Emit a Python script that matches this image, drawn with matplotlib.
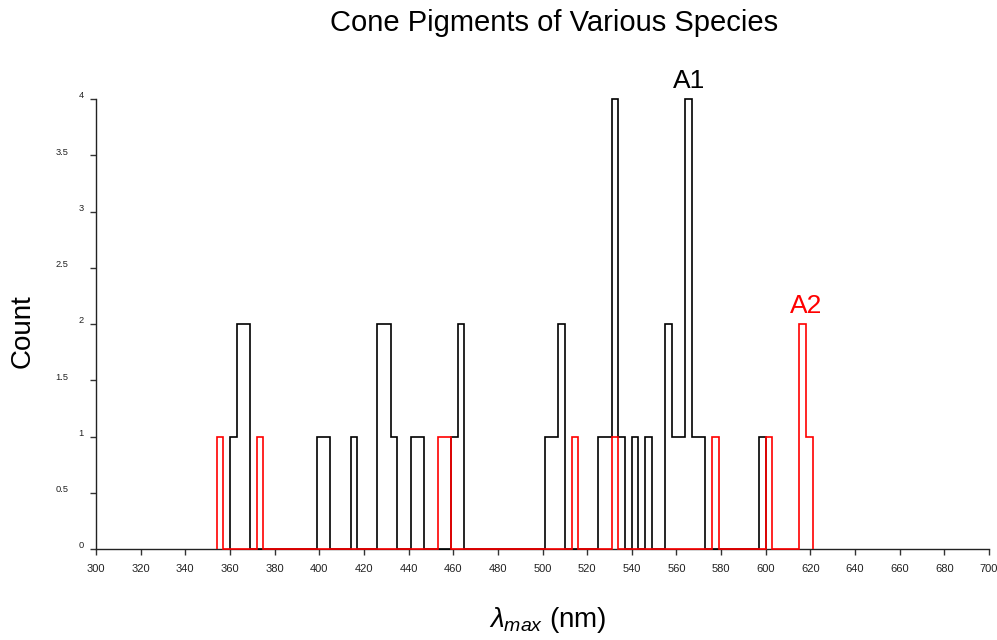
import numpy as np
import matplotlib
matplotlib.use("Agg")
import matplotlib.pyplot as plt
from matplotlib.transforms import ScaledTranslation

plt.rcParams['font.family'] = ['Liberation Sans', 'DejaVu Sans']
plt.rcParams['mathtext.fontset'] = 'custom'
plt.rcParams['mathtext.rm'] = 'Liberation Sans'
plt.rcParams['mathtext.it'] = 'Liberation Sans:italic'

# Histogram of peak absorbance wavelengths (3 nm bins starting at 300 nm)
bin_width = 3
a1_bin_start = [360, 363, 366, 399, 402, 414, 426, 429, 432, 441, 444, 459, 462,
                501, 504, 507, 525, 528, 531, 534, 540, 546, 555, 558, 561, 564,
                567, 570, 597]
a1_count = [1, 2, 2, 1, 1, 1, 2, 2, 1, 1, 1, 1, 2,
            1, 1, 2, 1, 1, 4, 1, 1, 1, 2, 1, 1, 4,
            1, 1, 1]
a2_bin_start = [354, 372, 453, 456, 513, 531, 576, 600, 615, 618]
a2_count = [1, 1, 1, 1, 1, 1, 1, 1, 2, 1]

x_ticks = list(range(300, 701, 20))
y_ticks = [0, 0.5, 1, 1.5, 2, 2.5, 3, 3.5, 4]
y_tick_labels = ['0', '0.5', '1', '1.5', '2', '2.5', '3', '3.5', '4']


def dense(starts, counts):
    lo, hi = min(starts), max(starts) + bin_width
    edges = np.arange(lo, hi + bin_width / 2, bin_width)
    vals = np.zeros(len(edges) - 1)
    for s, c in zip(starts, counts):
        vals[int(round((s - lo) / bin_width))] = c
    return vals, edges


fig = plt.figure(figsize=(9.97, 6.4), dpi=100)
ax = fig.add_axes([96 / 997, 1 - 549 / 640, (989 - 96) / 997, (549 - 99) / 640])

v1, e1 = dense(a1_bin_start, a1_count)
v2, e2 = dense(a2_bin_start, a2_count)
ax.stairs(v1, e1, baseline=0, fill=False, color='black', lw=1.2,
          zorder=3, clip_on=False)
ax.stairs(v2, e2, baseline=0, fill=False, color='#ff0000', lw=1.2,
          zorder=4, clip_on=False)

ax.set_xlim(300, 700)
ax.set_ylim(0, 4)
for side in ('top', 'right'):
    ax.spines[side].set_visible(False)
for side in ('left', 'bottom'):
    ax.spines[side].set_linewidth(1.0)
    ax.spines[side].set_color('#222222')

ax.set_xticks(x_ticks)
ax.set_xticklabels([str(t) for t in x_ticks])
ax.set_yticks(y_ticks)
ax.set_yticklabels(y_tick_labels)
ax.tick_params(axis='x', direction='out', length=4, width=1, color='#333333',
               labelsize=8, pad=7, labelcolor='#222222')
ax.tick_params(axis='y', direction='out', length=4, width=1, color='#333333',
               labelsize=6.7, pad=5, labelcolor='#222222')
for lab, txt in zip(ax.get_yticklabels(), y_tick_labels):
    dx = -15 / 100 if '.' in txt else 0
    lab.set_transform(lab.get_transform()
                      + ScaledTranslation(dx, 3 / 72, fig.dpi_scale_trans))

ax.text(565.6, 4.1, 'A1', color='black', fontsize=19, ha='center',
        va='baseline', clip_on=False)
ax.text(618.3, 2.1, 'A2', color='#ff0000', fontsize=19, ha='center',
        va='baseline', clip_on=False)

fig.text(554 / 997, 1 - 23 / 640, 'Cone Pigments of Various Species',
         fontsize=21, ha='center', va='center')
fig.text(23 / 997, 1 - 331 / 640, 'Count', fontsize=20, rotation=90,
         ha='center', va='center')
fig.text(548 / 997, 1 - 620 / 640, r'$\lambda_{max}$ (nm)', fontsize=20,
         ha='center', va='center')

fig.savefig('out.png', dpi=100)
